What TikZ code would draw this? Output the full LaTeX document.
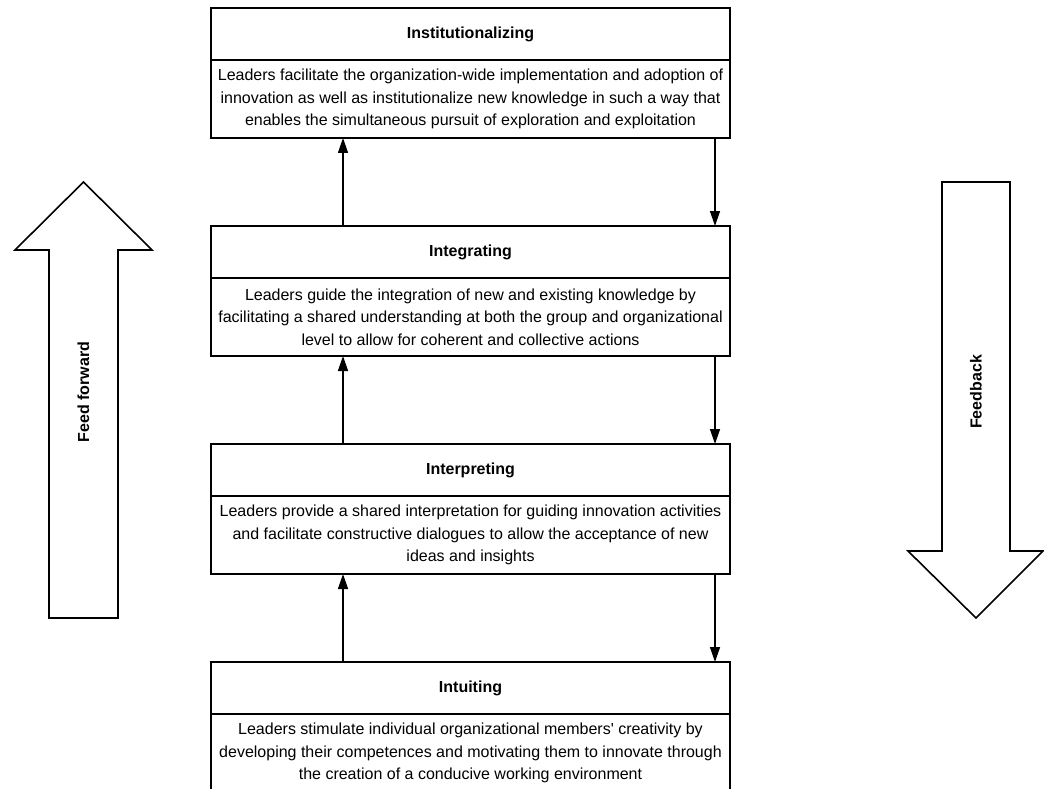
\documentclass[tikz,border=0pt]{standalone}
\usepackage{fontspec}
\setmainfont{Liberation Sans}
\usetikzlibrary{arrows.meta,positioning}

\begin{document}
\begin{tikzpicture}[x=1pt,y=1pt,->,>={Triangle[length=15pt,width=10pt]},line width=1.4pt,
    head/.style={draw,line width=1.6pt,minimum width=519pt,minimum height=52pt,outer sep=0pt,inner sep=0pt,
      font=\fontsize{16pt}{20pt}\selectfont\bfseries},
    body/.style={draw,line width=1.6pt,minimum width=519pt,minimum height=78pt,outer sep=0pt,inner sep=0pt,
      align=center,font=\fontsize{16pt}{22.5pt}\selectfont},
    bigarrow/.style={draw,-,line width=1.6pt,line join=miter},
    side/.style={rotate=90,font=\fontsize{16pt}{20pt}\selectfont\bfseries}]
        \useasboundingbox (0,0) rectangle (1044,-789);
        \node[head] (insth)  at (470.5,-34)          {Institutionalizing};
        \node[body] (inst)   [below=0pt of insth]   {Leaders facilitate the organization-wide implementation and adoption of\\
                                                      innovation as well as institutionalize new knowledge in such a way that\\
                                                      enables the simultaneous pursuit of exploration and exploitation};
        \node[head] (integh) [below=88pt of inst]   {Integrating};
        \node[body] (integ)  [below=0pt of integh]  {Leaders guide the integration of new and existing knowledge by\\
                                                      facilitating a shared understanding at both the group and organizational\\
                                                      level to allow for coherent and collective actions};
        \node[head] (interh) [below=88pt of integ]  {Interpreting};
        \node[body] (inter)  [below=0pt of interh]  {Leaders provide a shared interpretation for guiding innovation activities\\
                                                      and facilitate constructive dialogues to allow the acceptance of new\\
                                                      ideas and insights};
        \node[head] (intuh)  [below=88pt of inter]  {Intuiting};
        \node[body] (intu)   [below=0pt of intuh]   {Leaders stimulate individual organizational members\textquotesingle\ creativity by\\
                                                      developing their competences and motivating them to innovate through\\
                                                      the creation of a conducive working environment};
        % feed forward (left) and feedback (right)
        \draw[bigarrow] (49,-618) -- (49,-250) -- (15,-250) -- (83.5,-182) -- (152,-250) -- (118,-250) -- (118,-618) -- cycle;
        \draw[bigarrow] (942,-182) -- (1010,-182) -- (1010,-551) -- (1043,-551) -- (976,-618) -- (908,-551) -- (942,-551) -- cycle;
        \node[side] (ff) at (83.5,-392) {Feed forward};
        \node[side] (fb) at (976,-392)  {Feedback};
        % upward arrows
        \path[->] ([xshift=132pt]intuh.north west)  edge ([xshift=132pt]inter.south west);
        \path[->] ([xshift=132pt]interh.north west) edge ([xshift=132pt]integ.south west);
        \path[->] ([xshift=132pt]integh.north west) edge ([xshift=132pt]inst.south west);
        % downward arrows
        \path[->] ([xshift=-15pt]inst.south east)   edge ([xshift=-15pt]integh.north east);
        \path[->] ([xshift=-15pt]integ.south east)  edge ([xshift=-15pt]interh.north east);
        \path[->] ([xshift=-15pt]inter.south east)  edge ([xshift=-15pt]intuh.north east);
\end{tikzpicture}
\end{document}
